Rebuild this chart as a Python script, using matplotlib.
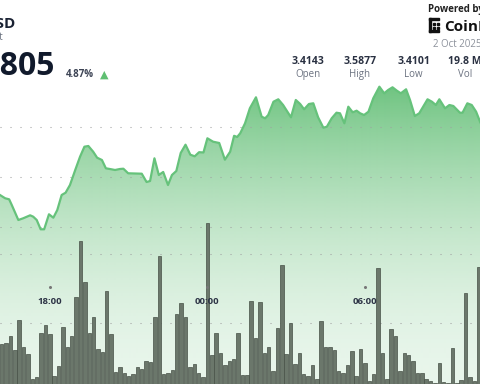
import matplotlib
matplotlib.use("Agg")
import numpy as np
import matplotlib.pyplot as plt
from matplotlib.patches import PathPatch, Rectangle
from matplotlib.transforms import blended_transform_factory

plt.rcParams["font.family"] = ["Open Sans", "DejaVu Sans"]

# ------------------------------
# Data
# ------------------------------
# price line: minutes after 16:00, price in USD
line_minutes = [6, 18, 27, 33, 48, 59, 75, 82, 90, 99,
                107, 118, 128, 137, 147, 156, 166, 178, 189, 199,
                208, 219, 228, 239, 248, 257, 269, 280, 288, 299,
                330, 341, 349, 359, 369, 379, 390, 399, 409, 419,
                430, 441, 451, 461, 471, 480, 493, 507, 520, 532,
                541, 548, 555, 566, 577, 591, 604, 612, 619, 631,
                642, 653, 671, 682, 692, 701, 712, 722, 733, 745,
                753, 764, 775, 783, 793, 802, 812, 821, 829, 838,
                848, 859, 873, 884, 893, 903, 913, 922, 934, 943,
                954, 964, 973, 983, 993, 1002, 1010, 1023, 1033, 1042,
                1057, 1063, 1074, 1084, 1094, 1103, 1112]
line_prices = [3.4794, 3.4761, 3.4751, 3.4694, 3.4544, 3.4561, 3.4591, 3.4577, 3.4544, 3.4451,
               3.4451, 3.4601, 3.4567, 3.4644, 3.4794, 3.4817, 3.4894, 3.5044, 3.5177, 3.5277,
               3.5284, 3.5227, 3.5167, 3.5144, 3.5061, 3.5054, 3.5044, 3.5054, 3.5057, 3.5011,
               3.5007, 3.4924, 3.4934, 3.5161, 3.4994, 3.5024, 3.4894, 3.4994, 3.5034, 3.5214,
               3.5297, 3.5197, 3.5181, 3.5222, 3.5219, 3.5361, 3.5327, 3.5314, 3.5147, 3.5227,
               3.5386, 3.5374, 3.5411, 3.5511, 3.5661, 3.5771, 3.5577, 3.5561, 3.5594, 3.5727,
               3.5751, 3.5694, 3.5571, 3.5744, 3.5704, 3.5651, 3.5704, 3.5711, 3.5571, 3.5467,
               3.5477, 3.5561, 3.5617, 3.5611, 3.5511, 3.5677, 3.5621, 3.5637, 3.5611, 3.5594,
               3.5627, 3.5761, 3.5877, 3.5811, 3.5844, 3.5871, 3.5837, 3.5811, 3.5851, 3.5744,
               3.5584, 3.5611, 3.5677, 3.5751, 3.5727, 3.5694, 3.5751, 3.5661, 3.5694, 3.5684,
               3.5617, 3.5617, 3.5711, 3.5694, 3.5627, 3.5527, 3.5444]

# 10-minute volume bars starting at 16:00
volumes = [127, 40, 41, 48, 34, 64, 37, 30, 5, 7,
           51, 59, 50, 8, 18, 57, 37, 48, 87, 143,
           102, 51, 67, 35, 32, 93, 50, 12, 17, 11,
           8, 10, 17, 15, 23, 22, 67, 128, 10, 11,
           14, 70, 81, 67, 17, 20, 11, 7, 161, 29,
           51, 31, 19, 23, 25, 51, 9, 9, 83, 46,
           82, 31, 37, 13, 56, 119, 30, 61, 20, 31,
           10, 8, 19, 5, 63, 37, 37, 34, 13, 11,
           19, 33, 8, 35, 21, 3, 10, 116, 31, 5,
           55, 48, 13, 31, 29, 23, 11, 11, 5, 3,
           1, 21, 2, 1, 36, 1, 4, 91, 7, 3,
           117]
bar_minutes = np.arange(len(volumes)) * 10

tick_minutes = [120, 480, 840]
tick_labels = ["18:00", "00:00", "06:00"]

price_grid = [3.5474, 3.4974, 3.4474]
volume_grid = [130, 61]

stat_values = ["3.4143", "3.5877", "3.4101", "19.8 M"]
stat_labels = ["Open", "High", "Low", "Vol"]
last_price = "3.5805"
change_pct = "4.87%"
date_text = "2 Oct 2025"

# ------------------------------
# Figure
# ------------------------------
W, H = 480, 384
fig = plt.figure(figsize=(4.8, 3.84), dpi=100)
fig.patch.set_facecolor("white")


def fx(x):
    return x / W


def fy(y):
    return 1 - y / H


xmin, xmax = 6.1, 1102.9
pmin, pmax = 3.2904, 3.6744

ax = fig.add_axes([0, 0, 1, 1])
ax.set_xlim(xmin, xmax)
ax.set_ylim(pmin, pmax)
ax.axis("off")

# gradient fill under the price line
n = 384
ypix = H - (np.arange(n) + 0.5) * H / n
t = np.clip((H - ypix) / 297.0, 0, 1)
alpha = 0.14 + 0.74 * t ** 1.8
grad = np.zeros((n, 1, 4))
grad[..., 0] = 92 / 255
grad[..., 1] = 188 / 255
grad[..., 2] = 112 / 255
grad[:, 0, 3] = alpha
fill = ax.fill_between(line_minutes, line_prices, pmin, color="none", lw=0)
clip = PathPatch(fill.get_paths()[0], transform=ax.transData,
                 facecolor="none", edgecolor="none")
ax.add_patch(clip)
im = ax.imshow(grad, extent=[xmin, xmax, pmin, pmax], origin="lower",
               aspect="auto", zorder=1, interpolation="bilinear")
im.set_clip_path(clip)

for g in price_grid:
    ax.axhline(g, color="#a0a0a0", lw=0.75, ls=(0, (1, 8.6)), zorder=2)

# volume bars
axv = ax.twinx()
axv.set_ylim(0, 384)
axv.axis("off")
for g in volume_grid:
    axv.axhline(g, color="#a0a0a0", lw=0.75, ls=(0, (1, 8.6)), zorder=0.5)
axv.bar(bar_minutes, volumes, width=7.9, color="#6b776b",
        edgecolor="#465046", linewidth=0.5, zorder=2)

# price line on top
axl = ax.twinx()
axl.set_ylim(pmin, pmax)
axl.axis("off")
axl.plot(line_minutes, line_prices, color="#66c27b", lw=1.6,
         solid_joinstyle="round", zorder=3)

trans = blended_transform_factory(axl.transData, axl.transAxes)
for m, lab in zip(tick_minutes, tick_labels):
    axl.plot([m], [fy(287)], marker="o", ms=1.2, color="#777777",
             transform=trans, zorder=4)
    axl.text(m, fy(302), lab, transform=trans, ha="center", va="center",
             fontsize=6.8, fontweight="bold", color="#2c3345", zorder=5)

# ------------------------------
# Header texts
# ------------------------------
fig.text(fx(15.5), fy(28), "USD", ha="right", va="baseline",
         fontsize=11, fontweight="bold", color="#1a2233")
fig.text(fx(3.5), fy(40), "Spot", ha="right", va="baseline",
         fontsize=7, color="#6b7280")
fig.text(fx(55.5), fy(75), last_price, ha="right", va="baseline",
         fontsize=23, fontweight="bold", color="#111a2c")
fig.text(fx(66), fy(77), change_pct, ha="left", va="baseline",
         fontsize=7, fontweight="bold", color="#3d4455")
fig.text(fx(104), fy(75), "\u25b2", ha="center", va="center",
         fontsize=8, color="#5fbf72", family=["DejaVu Sans"])

fig.text(fx(428), fy(12), "Powered by", ha="left", va="baseline",
         fontsize=7, fontweight="bold", color="#222222")
fig.text(fx(444), fy(31), "CoinDesk", ha="left", va="baseline",
         fontsize=11, fontweight="bold", color="#111111")
# small logo mark
for (x0, y0, w, h) in [(429, 18, 2, 14), (429, 18, 10, 2), (429, 30, 10, 2),
                       (433, 23, 2, 2), (433, 27, 2, 2), (437, 23, 2, 2), (437, 27, 2, 2)]:
    fig.patches.append(Rectangle((fx(x0), fy(y0 + h)), w / W, h / H,
                                 transform=fig.transFigure, color="#111111"))
fig.text(fx(433), fy(47), date_text, ha="left", va="baseline",
         fontsize=7, color="#8c919b")

stat_x = [307.5, 360, 413.5, 465]
for x, v, lab in zip(stat_x, stat_values, stat_labels):
    fig.text(fx(x), fy(64), v, ha="center", va="baseline",
             fontsize=7.6, fontweight="bold", color="#2a3142")
    fig.text(fx(x), fy(77), lab, ha="center", va="baseline",
             fontsize=7, color="#6b7280")

fig.savefig("out.png", dpi=100)
